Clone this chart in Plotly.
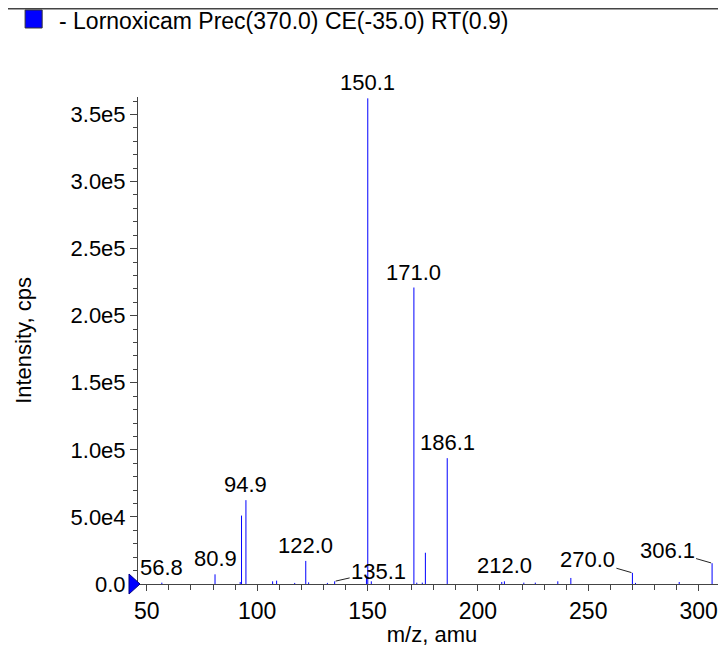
import plotly.graph_objects as go

# Product ion spectrum, Lornoxicam
mz = [56.8, 80.9, 92.3, 92.9, 94.9, 107.0, 108.8, 117.0, 122.0, 123.3,
      131.8, 135.1, 149.5, 150.1, 151.7, 171.0, 172.3, 174.8, 176.2, 186.1,
      210.8, 212.0, 220.8, 226.0, 236.2, 242.1, 270.0, 271.4, 291.2, 306.1]
intensity = [1.0e3, 7.2e3, 1.5e3, 5.1e4, 6.25e4, 2.0e3, 2.5e3, 0.8e3, 1.72e4, 1.2e3,
             0.8e3, 2.0e3, 5.0e3, 3.62e5, 2.0e3, 2.21e5, 1.0e3, 1.0e3, 2.33e4, 9.38e4,
             1.5e3, 2.0e3, 1.0e3, 1.0e3, 2.0e3, 4.5e3, 8.3e3, 0.8e3, 1.5e3, 1.55e4]

labels = ["56.8", "80.9", "94.9", "122.0", "150.1", "171.0", "186.1", "212.0"]
leader_labels = ["135.1", "270.0", "306.1"]

y_tickvals = [0, 5e4, 1e5, 1.5e5, 2e5, 2.5e5, 3e5, 3.5e5]
y_ticktext = ["0.0", "5.0e4", "1.0e5", "1.5e5", "2.0e5", "2.5e5", "3.0e5", "3.5e5"]

legend_text = "- Lornoxicam Prec(370.0) CE(-35.0) RT(0.9)"
x_range = [46.0, 312.4]
y_range = [0, 3.63e5]

FONT = "Liberation Sans, Arial, Helvetica, sans-serif"
BLUE = "#0000ff"
AXIS = "#444"

# stick spectrum: one vertical segment per peak
xs, ys = [], []
for m, i in zip(mz, intensity):
    xs += [m, m, None]
    ys += [0, i, None]

fig = go.Figure()
fig.add_trace(go.Scatter(x=xs, y=ys, mode="lines",
                         line=dict(color=BLUE, width=1),
                         hoverinfo="skip", showlegend=False))

peak_of = {f"{m:.1f}": i for m, i in zip(mz, intensity)}

for lab in labels:
    fig.add_annotation(x=float(lab), y=peak_of[lab], text=lab, showarrow=False,
                       xanchor="center", yanchor="bottom", yshift=1,
                       font=dict(size=22, color="black", family=FONT))

# labels with leader lines (pixel offsets to text centre)
offsets = {"135.1": (44, -10), "270.0": (-45, -13), "306.1": (-45, -13)}
for lab in leader_labels:
    ax, ay = offsets[lab]
    fig.add_annotation(x=float(lab), y=peak_of[lab], text=lab, showarrow=True,
                       arrowhead=0, arrowwidth=1, arrowcolor="#222",
                       ax=ax, ay=ay, standoff=1,
                       font=dict(size=22, color="black", family=FONT))

# precursor marker at the plot origin (paper ref so it is not clipped)
fig.add_shape(type="path", xref="paper", yref="paper", xsizemode="pixel", ysizemode="pixel",
              xanchor=0, yanchor=0,
              path="M -9,-10 L 2,0 L -9,10 Z",
              fillcolor=BLUE, line=dict(color="#000080", width=1))

# header line and legend box
fig.add_shape(type="line", xref="paper", yref="paper",
              x0=-0.25, x1=1.0, y0=1.1817, y1=1.1817,
              line=dict(color=AXIS, width=2))
fig.add_shape(type="rect", xref="paper", yref="paper",
              x0=-0.192, x1=-0.163, y0=1.1417, y1=1.1787,
              fillcolor=BLUE, line=dict(color="#333", width=1))
fig.add_annotation(xref="paper", yref="paper", x=-0.138, y=1.156,
                   text=legend_text, showarrow=False, xanchor="left", yanchor="middle",
                   font=dict(size=23, color="black", family=FONT))

fig.update_xaxes(range=x_range, dtick=50, tick0=0, showgrid=False, zeroline=False,
                 showline=True, linecolor=AXIS, linewidth=1,
                 ticks="outside", ticklen=6, tickcolor=AXIS,
                 minor=dict(dtick=10, ticks="outside", ticklen=5, tickcolor=AXIS),
                 tickfont=dict(size=23, color="black", family=FONT),
                 title=dict(text="m/z, amu", font=dict(size=22, color="black", family=FONT),
                            standoff=0))
fig.update_yaxes(range=y_range, tickvals=y_tickvals, ticktext=y_ticktext,
                 showgrid=False, zeroline=False,
                 showline=True, linecolor=AXIS, linewidth=1,
                 ticks="outside", ticklen=7, tickcolor=AXIS,
                 minor=dict(dtick=1e4, ticks="outside", ticklen=4, tickcolor=AXIS),
                 tickfont=dict(size=22, color="black", family=FONT),
                 title=dict(text="Intensity, cps", font=dict(size=22, color="black", family=FONT),
                            standoff=32))

# page body adds an 8px margin, so the figure is 8px smaller than the window
fig.update_layout(width=718, height=639,
                  margin=dict(l=130, r=0, t=89, b=63),
                  plot_bgcolor="white", paper_bgcolor="white",
                  font=dict(family=FONT, color="black"),
                  showlegend=False)

fig.write_html("out.html")
